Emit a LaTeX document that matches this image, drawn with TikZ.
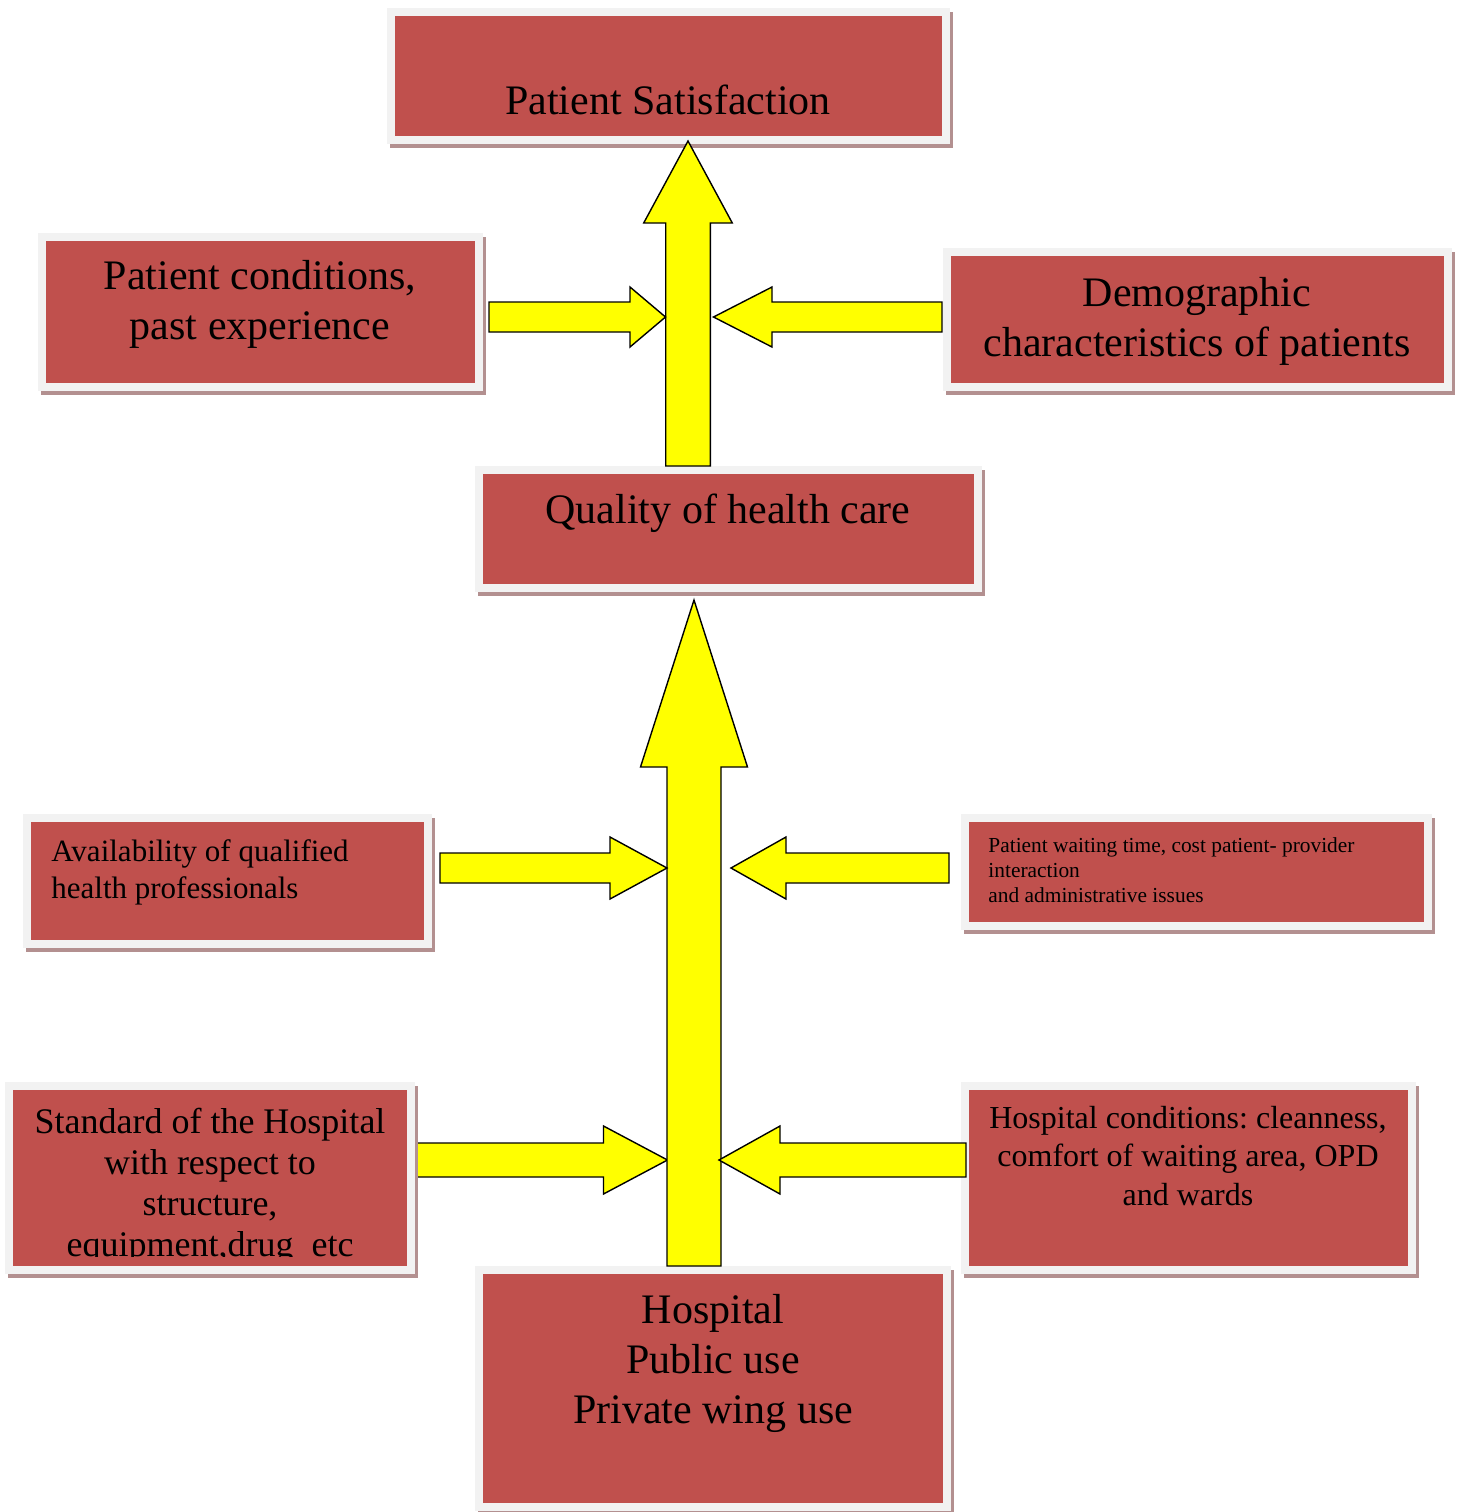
\documentclass[tikz,border=0pt]{standalone}
\usepackage{fontspec}
\setmainfont{Liberation Serif}
\frenchspacing
\usetikzlibrary{calc,shadows}

\definecolor{boxred}{RGB}{192,80,77}
\definecolor{framegray}{RGB}{242,242,242}
\definecolor{shadowred}{RGB}{179,144,144}
\definecolor{arrowyellow}{RGB}{255,255,0}

% block arrow: tail, tip, half shaft width, half head width, head length
\newcommand{\fatarrow}[5]{%
  \coordinate (fab) at ($(#2)!#5!(#1)$);
  \draw[fat] ($(#1)!#3!90:(#2)$) -- ($(fab)!#3!-90:(#1)$) -- ($(fab)!#4!-90:(#1)$)
    -- (#2) -- ($(fab)!#4!90:(#1)$) -- ($(fab)!#3!90:(#1)$) -- ($(#1)!#3!-90:(#2)$) -- cycle;
}

\begin{document}
\begin{tikzpicture}[x=0.5pt, y=-0.5pt,
   box/.style={rectangle, fill=boxred, draw=framegray, line width=4pt, inner sep=0pt,
      drop shadow={shadow xshift=1.5pt, shadow yshift=-2pt, fill=shadowred,
         draw=shadowred, line width=4pt, opacity=1}},
   txt/.style={inner sep=0pt, align=center, text=black},
   big/.style={txt, font=\fontsize{21}{25}\selectfont},
   fat/.style={fill=arrowyellow, draw=black, line width=0.7pt, line join=miter}]
   \useasboundingbox (0,0) rectangle (1460,1512);

   % arrow ends
   \coordinate (sat-from) at (688,466);
   \coordinate (sat-to) at (688,141);
   \coordinate (cond-from) at (489,317);
   \coordinate (cond-to) at (665.5,317);
   \coordinate (demo-from) at (942,317);
   \coordinate (demo-to) at (713.5,317);
   \coordinate (qual-from) at (694,1266);
   \coordinate (qual-to) at (694,600);
   \coordinate (avail-from) at (440,868);
   \coordinate (avail-to) at (667,868);
   \coordinate (wait-from) at (949,868);
   \coordinate (wait-to) at (731,868);
   \coordinate (std-from) at (405,1160);
   \coordinate (std-to) at (667.5,1160);
   \coordinate (hcond-from) at (966,1160);
   \coordinate (hcond-to) at (719,1160);

   % this one starts under its box
   \fatarrow{std-from}{std-to}{8.5pt}{17pt}{32pt}

   % boxes
   \node (satis) at (668.5,76) [box, minimum width=277.5pt, minimum height=64pt] {};
   \node (cond) at (260.5,312) [box, minimum width=218.5pt, minimum height=75pt] {};
   \node (demo) at (1197.5,319.5) [box, minimum width=250.5pt, minimum height=67.5pt] {};
   \node (qual) at (728.5,529) [box, minimum width=249.5pt, minimum height=59pt] {};
   \node (avail) at (227.5,881) [box, minimum width=200.5pt, minimum height=63pt] {};
   \node (wait) at (1196.5,872) [box, minimum width=231.5pt, minimum height=54pt] {};
   \node (std) at (210,1178) [box, minimum width=201pt, minimum height=92pt] {};
   \node (hcond) at (1188.5,1178) [box, minimum width=223.5pt, minimum height=92pt] {};
   \node (hosp) at (713,1388.5) [box, minimum width=234pt, minimum height=118.5pt] {};

   % texts
   \node (satistxt) at (668,100) [big] {Patient Satisfaction};
   \node (condtxt) at (260,304) [big] {Patient conditions,\\past experience};
   \node (demotxt) at (1197,321) [big] {Demographic\\characteristics of patients};
   \node (qualtxt) at (728,513) [big] {Quality of health care};
   \node (availtxt) at (51,872) [txt, anchor=west, align=left, font=\fontsize{15.5}{18.5}\selectfont]
      {Availability of qualified\\health professionals};
   \node (waittxt) at (988,870) [txt, anchor=west, align=left, font=\fontsize{10.7}{12.5}\selectfont]
      {Patient waiting time, cost patient- provider\\interaction\\and administrative issues};
   \begin{scope}
      \clip (13,1090) rectangle (407,1256);
      \node (stdtxt) at (210,1186) [txt, font=\fontsize{18}{20.5}\selectfont]
         {Standard of the Hospital\\with respect to\\structure,\\equipment,drug\ \ etc};
   \end{scope}
   \node (hcondtxt) at (1188,1156) [txt, font=\fontsize{16}{19.25}\selectfont]
      {Hospital conditions: cleanness,\\comfort of waiting area, OPD\\and wards};
   \node (hosptxt) at (713,1363) [big] {Hospital\\Public use\\Private wing use};

   % arrows
   \fatarrow{sat-from}{sat-to}{11.15pt}{22.15pt}{41pt}
   \fatarrow{cond-from}{cond-to}{7.5pt}{15pt}{17.75pt}
   \fatarrow{demo-from}{demo-to}{7.5pt}{15pt}{29.25pt}
   \fatarrow{qual-from}{qual-to}{13.5pt}{26.75pt}{83.5pt}
   \fatarrow{avail-from}{avail-to}{7.5pt}{15.5pt}{28.5pt}
   \fatarrow{wait-from}{wait-to}{7.5pt}{15.5pt}{27.5pt}
   \fatarrow{hcond-from}{hcond-to}{8.5pt}{17pt}{30.5pt}
\end{tikzpicture}
\end{document}
